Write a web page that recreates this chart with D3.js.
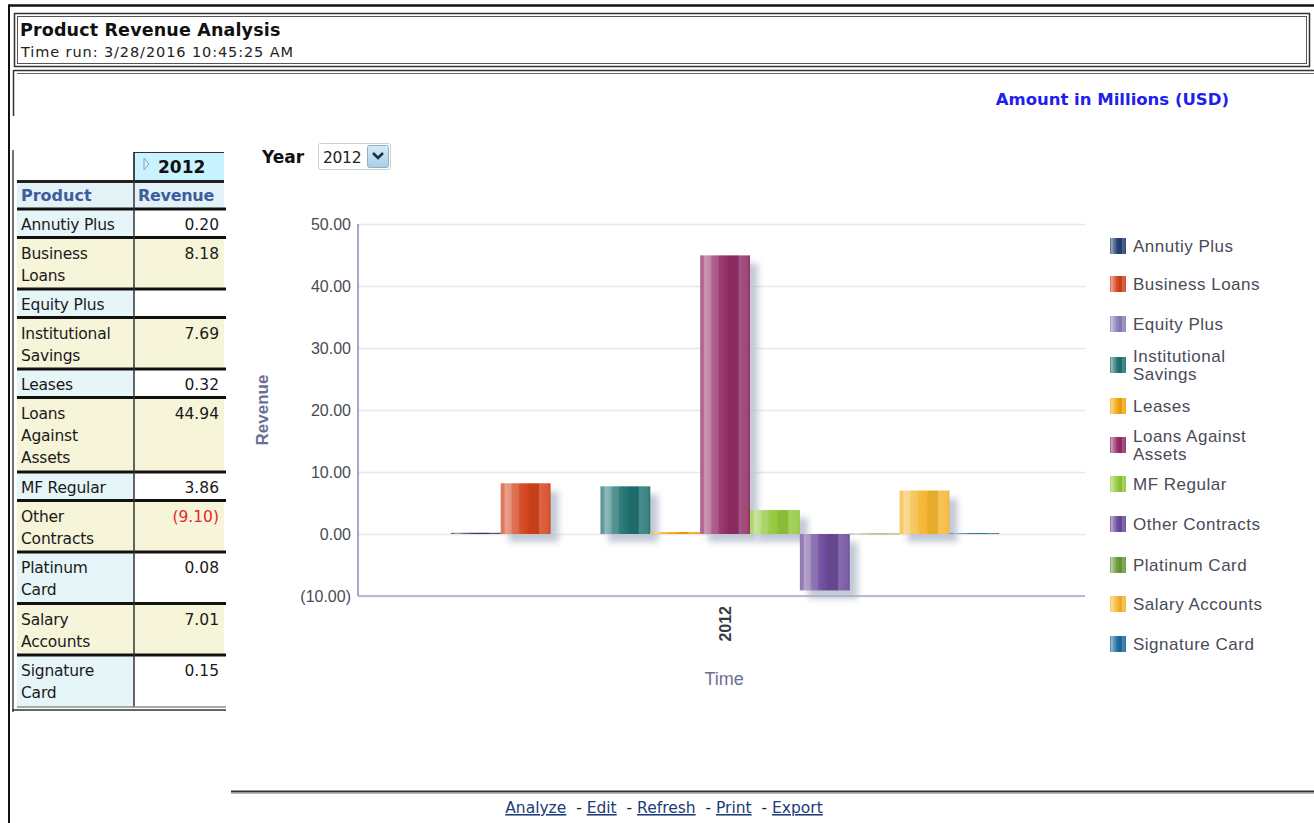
<!DOCTYPE html>
<html>
<head>
<meta charset="utf-8">
<script src="https://cdn.jsdelivr.net/npm/d3@7"></script>
<style>
  html, body { margin: 0; padding: 0; background: #fff; }
  svg { display: block; }
  .tahoma { font-family: "DejaVu Sans", sans-serif; }
  .arial { font-family: "Liberation Sans", Arial, sans-serif; }
</style>
</head>
<body>
<svg id="page" width="1314" height="823"></svg>
<script>
// ---------------- DATA ----------------
const reportTitle = "Product Revenue Analysis";
const timeRun = "Time run: 3/28/2016 10:45:25 AM";
const unitsNote = "Amount in Millions (USD)";
const years = ["2012"];
const products = ["Annutiy Plus", "Business Loans", "Equity Plus", "Institutional Savings", "Leases",
  "Loans Against Assets", "MF Regular", "Other Contracts", "Platinum Card", "Salary Accounts", "Signature Card"];
const revenue2012 = [0.20, 8.18, null, 7.69, 0.32, 44.94, 3.86, -9.10, 0.08, 7.01, 0.15];
const tableLabelLines = [["Annutiy Plus"], ["Business", "Loans"], ["Equity Plus"], ["Institutional", "Savings"], ["Leases"],
  ["Loans", "Against", "Assets"], ["MF Regular"], ["Other", "Contracts"], ["Platinum", "Card"], ["Salary", "Accounts"], ["Signature", "Card"]];
const legendLabelLines = [["Annutiy Plus"], ["Business Loans"], ["Equity Plus"], ["Institutional", "Savings"], ["Leases"],
  ["Loans Against", "Assets"], ["MF Regular"], ["Other Contracts"], ["Platinum Card"], ["Salary Accounts"], ["Signature Card"]];
const seriesColors = ["#23406f", "#d2431c", "#8a7fb8", "#217272", "#f5a40f", "#922e66",
  "#93c83b", "#6a4a9a", "#689a3a", "#f4b630", "#1c6c9e"];
const yTicks = [50, 40, 30, 20, 10, 0, -10];
const footerLinks = ["Analyze", "Edit", "Refresh", "Print", "Export"];

// ---------------- PAGE FRAME ----------------
const svg = d3.select("#page");
const defs = svg.append("defs");

svg.append("line").attr("x1", 8).attr("x2", 1314).attr("y1", 5.5).attr("y2", 5.5).attr("stroke", "#111").attr("stroke-width", 2.5);
svg.append("line").attr("x1", 9).attr("x2", 9).attr("y1", 5).attr("y2", 823).attr("stroke", "#111").attr("stroke-width", 2);

svg.append("rect").attr("x", 14.5).attr("y", 13.5).attr("width", 1295).attr("height", 53).attr("fill", "none").attr("stroke", "#333").attr("stroke-width", 1.5);
svg.append("rect").attr("x", 17.5).attr("y", 16.5).attr("width", 1289).attr("height", 47).attr("fill", "none").attr("stroke", "#555").attr("stroke-width", 1);
svg.append("text").attr("class", "tahoma").attr("x", 20).attr("y", 36).attr("font-size", 17.5).attr("font-weight", "bold").attr("letter-spacing", 0.15).attr("fill", "#111").text(reportTitle);
svg.append("text").attr("class", "tahoma").attr("x", 21).attr("y", 57).attr("font-size", 14.5).attr("letter-spacing", 0.9).attr("fill", "#222").text(timeRun);

svg.append("line").attr("x1", 14).attr("x2", 1314).attr("y1", 70.5).attr("y2", 70.5).attr("stroke", "#333").attr("stroke-width", 1.5);
svg.append("line").attr("x1", 17).attr("x2", 1314).attr("y1", 73.5).attr("y2", 73.5).attr("stroke", "#666").attr("stroke-width", 1);
svg.append("line").attr("x1", 13.5).attr("x2", 13.5).attr("y1", 70).attr("y2", 116).attr("stroke", "#333").attr("stroke-width", 1.5);

svg.append("text").attr("class", "tahoma").attr("x", 1229).attr("y", 105).attr("text-anchor", "end")
  .attr("font-size", 16.5).attr("font-weight", "bold").attr("fill", "#2020ee").text(unitsNote);

// ---------------- TABLE ----------------
const tbl = svg.append("g").attr("class", "tahoma");
const col0 = 17, col1 = 134, col2 = 224;
tbl.append("line").attr("x1", 13).attr("x2", 13).attr("y1", 150).attr("y2", 712).attr("stroke", "#444").attr("stroke-width", 1.5);
tbl.append("rect").attr("x", col1).attr("y", 152).attr("width", col2 - col1).attr("height", 29).attr("fill", "#c9f3ff");
tbl.append("path").attr("d", `M${col1},181 V152.5 H${col2}`).attr("fill", "none").attr("stroke", "#333").attr("stroke-width", 1.2);
tbl.append("path").attr("d", "M144,158 L149,164 L144,170 Z").attr("fill", "none").attr("stroke", "#8aa0b8").attr("stroke-width", 1);
tbl.append("text").attr("x", 158).attr("y", 173).attr("font-size", 17).attr("font-weight", "bold").attr("fill", "#111").text(years[0]);
tbl.append("rect").attr("x", col0).attr("y", 181).attr("width", col2 - col0).attr("height", 28).attr("fill", "#e3f2f6");
tbl.append("line").attr("x1", col0).attr("x2", col2).attr("y1", 181.5).attr("y2", 181.5).attr("stroke", "#222").attr("stroke-width", 3);
tbl.append("text").attr("x", 21).attr("y", 201).attr("font-size", 16).attr("font-weight", "bold").attr("fill", "#3d5d9c").text("Product");
tbl.append("text").attr("x", 138).attr("y", 201).attr("font-size", 16).attr("font-weight", "bold").attr("fill", "#3d5d9c").attr("letter-spacing", -0.3).text("Revenue");

let rowY = 209;
const fmt = v => v == null ? "" : (v < 0 ? "(" + d3.format(".2f")(-v) + ")" : d3.format(".2f")(v));
products.forEach((p, i) => {
  const lines = tableLabelLines[i];
  const h = 5.5 + 23 * lines.length;
  const alt = i % 2 === 1;
  tbl.append("rect").attr("x", col0).attr("y", rowY).attr("width", col1 - col0).attr("height", h).attr("fill", alt ? "#f6f4d9" : "#e6f5f8");
  tbl.append("rect").attr("x", col1).attr("y", rowY).attr("width", col2 - col1).attr("height", h).attr("fill", alt ? "#f6f4d9" : "#ffffff");
  tbl.append("line").attr("x1", col0).attr("x2", col2 + 2).attr("y1", rowY).attr("y2", rowY).attr("stroke", "#111").attr("stroke-width", 3);
  const t = tbl.append("text").attr("font-size", 15.5).attr("fill", "#1a1a1a").attr("letter-spacing", -0.2);
  lines.forEach((ln, k) => t.append("tspan").attr("x", 21).attr("y", rowY + 21 + k * 22).text(ln));
  const v = revenue2012[i];
  tbl.append("text").attr("x", 219).attr("y", rowY + 21).attr("text-anchor", "end").attr("font-size", 15.5)
    .attr("fill", v != null && v < 0 ? "#e8262a" : "#1a1a1a").text(fmt(v));
  rowY += h;
});
tbl.append("line").attr("x1", col1).attr("x2", col1).attr("y1", 152).attr("y2", rowY).attr("stroke", "#333").attr("stroke-width", 1.5);
tbl.append("line").attr("x1", col0).attr("x2", col2 + 2).attr("y1", rowY + 0.5).attr("y2", rowY + 0.5).attr("stroke", "#555").attr("stroke-width", 1.2);
tbl.append("line").attr("x1", 12).attr("x2", col2 + 2).attr("y1", rowY + 3.5).attr("y2", rowY + 3.5).attr("stroke", "#333").attr("stroke-width", 1.5);

// ---------------- YEAR PROMPT ----------------
svg.append("text").attr("class", "tahoma").attr("x", 262).attr("y", 163).attr("font-size", 17).attr("font-weight", "bold").attr("fill", "#111").text("Year");
svg.append("rect").attr("x", 318.5).attr("y", 143.5).attr("width", 72).attr("height", 26).attr("rx", 2).attr("fill", "#fff").attr("stroke", "#c3d3dc");
svg.append("text").attr("class", "tahoma").attr("x", 323).attr("y", 163).attr("font-size", 15.5).attr("letter-spacing", -0.3).attr("fill", "#222").text(years[0]);
const btnG = defs.append("linearGradient").attr("id", "btnGrad").attr("x1", 0).attr("y1", 0).attr("x2", 0).attr("y2", 1);
btnG.append("stop").attr("offset", "0%").attr("stop-color", "#d6ecf8");
btnG.append("stop").attr("offset", "100%").attr("stop-color", "#a9cde6");
svg.append("rect").attr("x", 367.5).attr("y", 145.5).attr("width", 21).attr("height", 22).attr("rx", 2).attr("fill", "url(#btnGrad)").attr("stroke", "#8fb0c8");
svg.append("path").attr("d", "M373,153 L378,158 L383,153").attr("fill", "none").attr("stroke", "#1d2f4a").attr("stroke-width", 2.6);

// ---------------- CHART ----------------
const plot = { left: 358, right: 1085, top: 224, bottom: 596 };
const y = d3.scaleLinear().domain([-10, 50]).range([plot.bottom, plot.top]);
const x0 = d3.scaleBand().domain(years).range([plot.left, plot.right]).padding(0.14).align(0.52);
const x1 = d3.scaleBand().domain(products).range([0, x0.bandwidth()]).padding(0);

const chart = svg.append("g").attr("class", "arial");

const yAxis = d3.axisLeft(y).tickValues(yTicks).tickSize(-(plot.right - plot.left)).tickPadding(6)
  .tickFormat(v => v < 0 ? "(" + d3.format(".2f")(-v) + ")" : d3.format(".2f")(v));
const yg = chart.append("g").attr("transform", `translate(${plot.left},0)`).call(yAxis);
yg.select(".domain").remove();
yg.selectAll(".tick line").attr("stroke", d => d === 0 ? "#f0e4e2" : "#e2e8ec").attr("stroke-width", 1.5);
yg.selectAll(".tick text").attr("font-size", 16).attr("fill", "#4a4a55").attr("font-family", "Liberation Sans, Arial, sans-serif").attr("x", -7);

const blur = defs.append("filter").attr("id", "shadowBlur").attr("x", "-30%").attr("y", "-30%").attr("width", "160%").attr("height", "160%");
blur.append("feGaussianBlur").attr("stdDeviation", 3);

seriesColors.forEach((c, i) => {
  const m = t => d3.interpolateRgb(c, "#ffffff")(t);
  const dk = t => d3.interpolateRgb(c, "#000000")(t);
  const g = defs.append("linearGradient").attr("id", "bar" + i).attr("x1", 0).attr("x2", 1).attr("y1", 0).attr("y2", 0);
  const stops = [
    [0, m(0.25)], [0.07, m(0.3)], [0.09, m(0.5)], [0.2, m(0.42)], [0.24, m(0.25)], [0.36, m(0.2)],
    [0.38, m(0.08)], [0.55, c], [0.57, dk(0.06)], [0.76, dk(0.06)], [0.78, m(0.18)], [0.95, m(0.12)], [1, c]
  ];
  stops.forEach(([o, col]) => g.append("stop").attr("offset", (o * 100) + "%").attr("stop-color", d3.color(col).formatHex()));
});

const barData = products.map((p, i) => ({ p, i, v: revenue2012[i], year: years[0] })).filter(d => d.v != null);
const bars = chart.append("g");
bars.selectAll(".shadow").data(barData).join("rect").attr("class", "shadow")
  .attr("x", d => x0(d.year) + x1(d.p) + 8)
  .attr("y", d => Math.min(y(d.v), y(0)) + 8)
  .attr("width", x1.bandwidth())
  .attr("height", d => Math.max(Math.abs(y(d.v) - y(0)), 1))
  .attr("fill", "#b4bccb").attr("opacity", d => Math.abs(y(d.v) - y(0)) < 3 ? 0 : 0.8)
  .attr("filter", "url(#shadowBlur)");
bars.selectAll(".bar").data(barData).join("rect").attr("class", "bar")
  .attr("x", d => x0(d.year) + x1(d.p))
  .attr("y", d => Math.min(y(d.v), y(0)))
  .attr("width", x1.bandwidth())
  .attr("height", d => Math.max(Math.abs(y(d.v) - y(0)), 0.8))
  .attr("fill", d => "url(#bar" + d.i + ")");

chart.append("line").attr("x1", plot.left).attr("x2", plot.left).attr("y1", plot.top).attr("y2", plot.bottom).attr("stroke", "#8d89b5").attr("stroke-width", 1.5);
chart.append("line").attr("x1", plot.left).attr("x2", plot.right).attr("y1", plot.bottom).attr("y2", plot.bottom).attr("stroke", "#a9a9c6").attr("stroke-width", 1.5);

const xAxis = d3.axisBottom(x0).tickSize(0).tickPadding(0);
const xg = chart.append("g").attr("transform", `translate(0,${plot.bottom})`).call(xAxis);
xg.select(".domain").remove();
xg.selectAll(".tick text").attr("font-size", 16).attr("font-weight", "bold").attr("fill", "#3a3a44")
  .attr("font-family", "Liberation Sans, Arial, sans-serif")
  .attr("transform", "rotate(-90)").attr("text-anchor", "end").attr("dy", "0.35em").attr("x", -10).attr("y", 0);

chart.append("text").attr("transform", `translate(268,${(plot.top + plot.bottom) / 2}) rotate(-90)`).attr("text-anchor", "middle")
  .attr("font-size", 17).attr("font-weight", "bold").attr("fill", "#6b7093").text("Revenue");
chart.append("text").attr("x", x0(years[0]) + x0.bandwidth() / 2 - 1).attr("y", 685).attr("text-anchor", "middle")
  .attr("font-size", 18).attr("fill", "#6b7093").text("Time");

const legendY = [246, 284, 324, 365, 406, 445, 484, 524, 565, 604, 644];
const leg = chart.append("g");
products.forEach((p, i) => {
  const cy = legendY[i];
  leg.append("rect").attr("x", 1110).attr("y", cy - 8).attr("width", 16).attr("height", 16).attr("fill", "url(#bar" + i + ")");
  const lines = legendLabelLines[i];
  const t = leg.append("text").attr("font-size", 17).attr("fill", "#4a4a58").attr("letter-spacing", 0.5);
  const start = cy + 6 - (lines.length - 1) * 9;
  lines.forEach((ln, k) => t.append("tspan").attr("x", 1133).attr("y", start + k * 18).text(ln));
});

// ---------------- FOOTER ----------------
svg.append("line").attr("x1", 231).attr("x2", 1314).attr("y1", 791.5).attr("y2", 791.5).attr("stroke", "#333").attr("stroke-width", 2);
svg.append("line").attr("x1", 231).attr("x2", 1314).attr("y1", 793.5).attr("y2", 793.5).attr("stroke", "#bbb").attr("stroke-width", 1);
const foot = svg.append("text").attr("class", "tahoma").attr("x", 664).attr("y", 813).attr("text-anchor", "middle").attr("font-size", 15.5).attr("letter-spacing", 0).attr("fill", "#1c3b78");
footerLinks.forEach((l, i) => {
  if (i > 0) foot.append("tspan").attr("fill", "#222").text("\u00a0\u00a0-\u00a0");
  foot.append("tspan").attr("text-decoration", "underline").text(l);
});
</script>
</body>
</html>
